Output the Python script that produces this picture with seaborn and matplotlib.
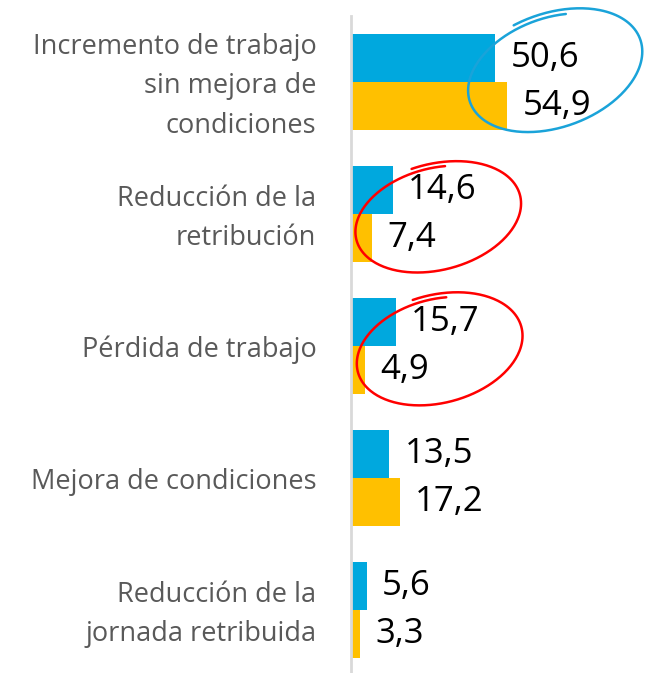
import numpy as np
import pandas as pd
import matplotlib.pyplot as plt
import matplotlib.transforms as mtransforms
import seaborn as sns

#
# Data: five categories, two series (blue and gold)
#
categorias = [
    "Incremento de trabajo\nsin mejora de\ncondiciones",
    "Reducción de la\nretribución",
    "Pérdida de trabajo",
    "Mejora de condiciones",
    "Reducción de la\njornada retribuida",
]
serie_azul = [50.6, 14.6, 15.7, 13.5, 5.6]
serie_oro = [54.9, 7.4, 4.9, 17.2, 3.3]
series = ["Serie 1", "Serie 2"]
colores = ["#00A8DE", "#FFC000"]

df = pd.DataFrame({
    "categoria": categorias * 2,
    "valor": serie_azul + serie_oro,
    "serie": [series[0]] * len(categorias) + [series[1]] * len(categorias),
})

sns.set_style("white")
plt.rcParams['font.family'] = ['Open Sans', 'DejaVu Sans']

fig = plt.figure(figsize=(6.56, 6.73), dpi=100)
ax = fig.add_axes([351 / 656, 0, 305 / 656, 657 / 673])

sns.barplot(data=df, y="categoria", x="valor", hue="serie", orient="h",
            palette=colores, saturation=1, width=0.727, linewidth=0,
            legend=False, ax=ax)

ax.set_xlim(0, 107)
ax.set_ylim(4.477, -0.5)

for cont in ax.containers:
    ax.bar_label(cont, labels=[f"{v:.1f}".replace(".", ",") for v in cont.datavalues],
                 padding=11, fontsize=25, color="black")

#
# Category labels drawn by hand so they can sit a bit lower
#
ax.set_xlabel("")
ax.set_ylabel("")
ax.set_xticks([])
ax.set_yticks(range(len(categorias)))
ax.set_yticklabels([])
ax.tick_params(axis="y", length=0)
for i, cat in enumerate(categorias):
    ax.annotate(cat, xy=(0, i), xycoords=("axes fraction", "data"),
                xytext=(-25, -3), textcoords="offset points",
                ha="right", va="center", multialignment="right",
                fontsize=19.5, color="#595959", linespacing=1.54)

for side in ["top", "right", "bottom"]:
    ax.spines[side].set_visible(False)
ax.spines["left"].set_color("#D9D9D9")
ax.spines["left"].set_linewidth(2)


#
# Hand drawn circles around the values: centre in data units,
# radii in pixels, one loop and a little overshoot
#
def garabato(centro, a, b, angulo, color, t0=1.6, extra=0.5, crece=0.08):
    cx, cy = ax.transData.transform(centro)
    t = np.linspace(t0, t0 + 2 * np.pi + extra, 300)
    k = 1 - crece + crece * (t - t0) / (2 * np.pi)
    x = a * k * np.cos(t)
    y = b * k * np.sin(t)
    th = np.deg2rad(angulo)
    xr = cx + x * np.cos(th) - y * np.sin(th)
    yr = cy + x * np.sin(th) + y * np.cos(th)
    ax.plot(xr, yr, color=color, lw=1.8, transform=mtransforms.IdentityTransform(),
            clip_on=False, solid_capstyle="round")


garabato((71, -0.08), 94, 58, 20, "#1AA3D9", t0=1.2, extra=0.6)
garabato((30, 1.03), 88, 54, 15, "#FF0000", t0=1.3, extra=0.4)
garabato((30.5, 2.03), 88, 55, 15, "#FF0000", t0=1.3, extra=0.4)

fig.savefig("out.png", dpi=100)
